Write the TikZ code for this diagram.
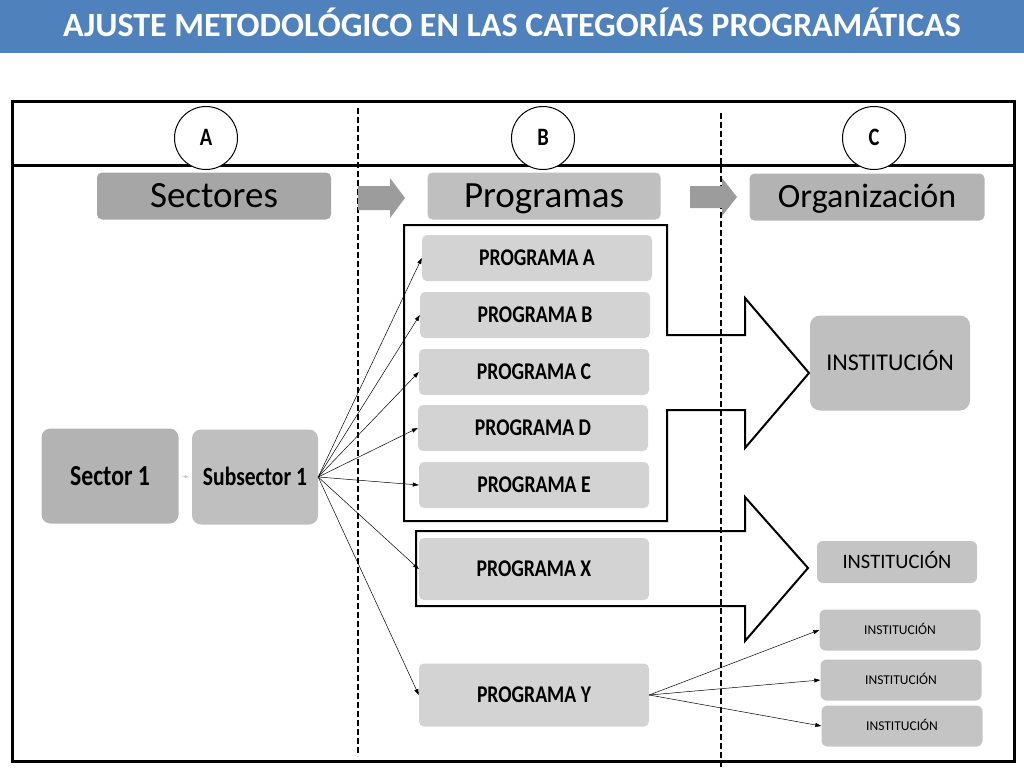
\documentclass[tikz,border=0pt]{standalone}
\usepackage{fontspec}
\setmainfont{Carlito}
\newfontfamily\narrowfont[FakeStretch=0.82]{Carlito}
\usetikzlibrary{arrows.meta}
\definecolor{titleblue}{HTML}{4F81BD}
\definecolor{gA}{HTML}{A6A6A6}
\definecolor{gB}{HTML}{BFBFBF}
\definecolor{gC}{HTML}{B3B3B3}
\definecolor{gP}{HTML}{D3D3D3}
\definecolor{gI}{HTML}{C4C4C4}
\definecolor{gArr}{HTML}{9C9C9C}
\tikzset{
  fs/.style={font=\fontsize{#1}{#1}\selectfont, text height={0.632*#1pt}, text depth=0pt},
  fsb/.style={font=\bfseries\fontsize{#1}{#1}\selectfont, text height={0.632*#1pt}, text depth=0pt},
  nfb/.style={font=\narrowfont\bfseries\fontsize{#1}{#1}\selectfont, text height={0.632*#1pt}, text depth=0pt},
  gbox/.style={rectangle, rounded corners=#1, inner sep=0pt, draw=none},
  progbox/.style={gbox=5pt, fill=gP, minimum width=230pt, minimum height=46pt, nfb=24},
  instsmall/.style={gbox=6pt, fill=gI, minimum width=161pt, minimum height=41pt, fs=13.5},
  circ/.style={circle, draw, line width=1pt, fill=white, minimum size=63pt, inner sep=0pt, nfb=25},
  fan/.style={line width=0.5pt, -{Triangle[length=6pt,width=4pt]}},
  bigarrow/.style={line width=2pt, draw=black, fill=none, line join=miter},
  sep/.style={line width=1.6pt, dash pattern=on 6pt off 3pt},
}
\begin{document}
\begin{tikzpicture}[x=1pt,y=-1pt]
\useasboundingbox (0,0) rectangle (1024,768);
% title
\fill[titleblue] (0,0) rectangle (1024,53);
\node[text=white, fsb=34] (title) at (512,26) {AJUSTE METODOLÓGICO EN LAS CATEGORÍAS PROGRAMÁTICAS};
% frame
\draw[line width=3pt] (12,101) rectangle (1014,761);
\draw[line width=3pt] (12,165) -- (1014,165);
% dashed separators
\draw[sep] (358,108) -- (358,756);
\draw[sep] (721,113) -- (721,768);
% circles
\node[circ] (cA) at (206,138) {A};
\node[circ] (cB) at (543,138) {B};
\node[circ] (cC) at (874,138) {C};
% headers
\node[gbox=5pt, fill=gA, minimum width=234pt, minimum height=47pt, fs=37] (hS) at (214,196) {Sectores};
\node[gbox=5pt, fill=gB, minimum width=233pt, minimum height=47pt, fs=37] (hP) at (544,196) {Programas};
\node[gbox=5pt, fill=gC, minimum width=235pt, minimum height=47pt, fs=34] (hO) at (867,197) {Organización};
% gray block arrows
\fill[gArr] (358,186) -- (390,186) -- (390,178) -- (405,198) -- (390,218) -- (390,210) -- (358,210) -- cycle;
\fill[gArr] (690,186) -- (722,186) -- (722,178) -- (737,197) -- (722,216) -- (722,208) -- (690,208) -- cycle;
% big outline arrows
\draw[bigarrow] (404,225) -- (667,225) -- (667,335) -- (745,335) -- (745,298) -- (809,373) -- (745,448) -- (745,410) -- (667,410) -- (667,521) -- (404,521) -- cycle;
\draw[bigarrow] (416,531) -- (745,531) -- (745,497) -- (808,568) -- (745,641) -- (745,606) -- (416,606) -- cycle;
% programs
\node[progbox] (pA) at (537,258) {PROGRAMA A};
\node[progbox] (pB) at (535,315) {PROGRAMA B};
\node[progbox] (pC) at (534,372) {PROGRAMA C};
\node[progbox] (pD) at (533,428) {PROGRAMA D};
\node[progbox] (pE) at (534,485) {PROGRAMA E};
\node[progbox, minimum height=62pt] (pX) at (534,569) {PROGRAMA X};
\node[progbox, minimum height=63pt] (pY) at (534,695) {PROGRAMA Y};
% sectors
\node[gbox=9pt, fill=gC, minimum width=137pt, minimum height=95pt, nfb=29] (s1) at (110,476) {Sector 1};
\node[gbox=9pt, fill=gB, minimum width=126pt, minimum height=95pt, nfb=26.3] (ss1) at (255,477) {Subsector 1};
\draw[gray!45, line width=0.6pt, -{Triangle[length=4pt,width=3pt]}] (s1.east) ++(3,0) -- ([xshift=-3pt]ss1.west);
% institutions
\node[gbox=10pt, fill=gB, minimum width=160pt, minimum height=95pt, fs=24] (i0) at (890,363) {INSTITUCIÓN};
\node[gbox=6pt, fill=gI, minimum width=160pt, minimum height=42pt, fs=20.5] (iX) at (897,562) {INSTITUCIÓN};
\node[instsmall] (i1) at (900,630) {INSTITUCIÓN};
\node[instsmall] (i2) at (901,680) {INSTITUCIÓN};
\node[instsmall] (i3) at (902,726) {INSTITUCIÓN};
% fan connectors
\foreach \p in {pA,pB,pC,pD,pE,pX,pY} {
  \draw[fan] (ss1.east) -- (\p.west);
}
\foreach \i in {i1,i2,i3} {
  \draw[fan] (pY.east) -- (\i.west);
}
\end{tikzpicture}
\end{document}
